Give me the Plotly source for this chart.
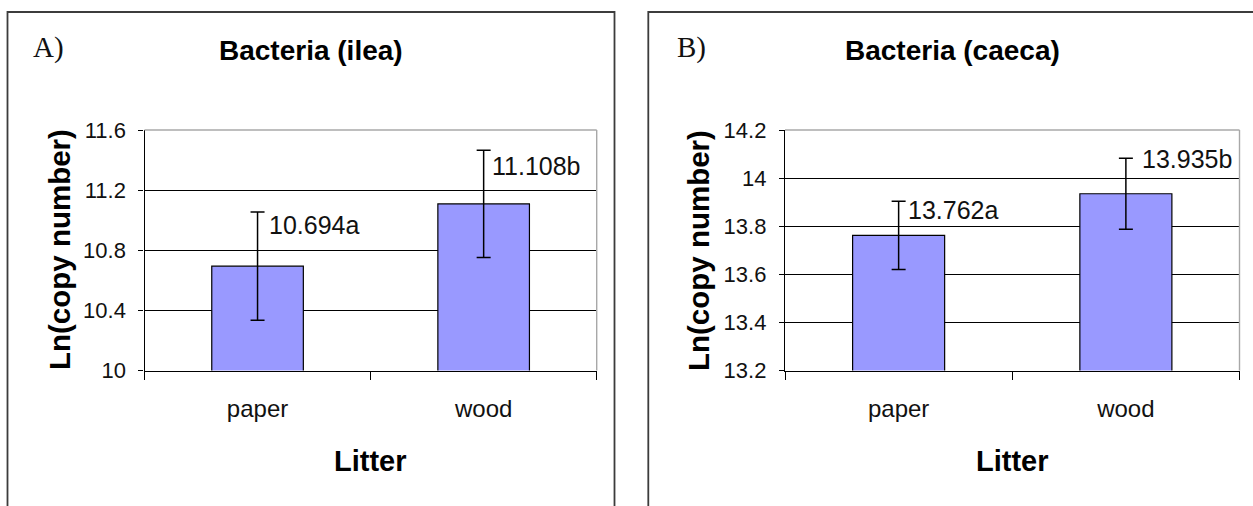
import plotly.graph_objects as go

# ---------------- data ----------------
categories = ["paper", "wood"]

ilea_means = [10.694, 11.108]
ilea_err = [0.36, 0.357]
ilea_letters = ["a", "b"]
ilea_ticks = [10, 10.4, 10.8, 11.2, 11.6]

caeca_means = [13.762, 13.935]
caeca_err = [0.142, 0.148]
caeca_letters = ["a", "b"]
caeca_ticks = [13.2, 13.4, 13.6, 13.8, 14.0, 14.2]

panel_labels = ["A)", "B)"]
titles = ["Bacteria (ilea)", "Bacteria (caeca)"]
y_title = "Ln(copy number)"
x_title = "Litter"

# ---------------- layout helpers ----------------
W, H = 1253, 506


def px_x(p):
    return p / W


def px_y(p):
    return 1 - p / H


FONT = "Liberation Sans, Arial, sans-serif"
SERIF = "Liberation Serif, Times New Roman, serif"
BAR_FILL = "#9999FF"

panels = [
    dict(means=ilea_means, err=ilea_err, letters=ilea_letters, ticks=ilea_ticks,
         xd=[px_x(144.5), px_x(596.7)], box=[7.5, 614.5], label_x=48, title_x=310.5,
         ytitle_x=60, label_dx=[10, 7], label_dy=[13, 16]),
    dict(means=caeca_means, err=caeca_err, letters=caeca_letters, ticks=caeca_ticks,
         xd=[px_x(785), px_x(1239.5)], box=[648.3, 1400], label_x=691, title_x=952,
         ytitle_x=699, label_dx=[8, 15], label_dy=[9, 1]),
]
yd = [px_y(370.5), px_y(130)]

fig = go.Figure()
annotations = []
shapes = []

for i, p in enumerate(panels):
    sfx = "" if i == 0 else str(i + 1)
    xa, ya = "x" + sfx, "y" + sfx
    fig.add_trace(go.Bar(
        x=categories, y=p["means"], xaxis=xa, yaxis=ya,
        width=0.405,
        marker=dict(color=BAR_FILL, line=dict(color="black", width=1.2)),
        error_y=dict(type="data", array=p["err"], visible=True,
                     color="black", thickness=1.5, width=7),
        showlegend=False, hoverinfo="skip",
    ))
    lo, hi = p["ticks"][0], p["ticks"][-1]
    fig.update_layout(**{
        "xaxis" + sfx: dict(
            domain=p["xd"], anchor=ya, type="category", automargin=False,
            showline=True, linecolor="black", linewidth=1.3,
            ticks="outside", tickson="boundaries", ticklen=8, tickcolor="black",
            tickwidth=1.3, showgrid=False, ticklabelstandoff=17,
            tickfont=dict(family=FONT, size=24, color="#111"),
            fixedrange=True,
        ),
        "yaxis" + sfx: dict(
            domain=yd, anchor=xa, range=[lo, hi], automargin=False,
            tickmode="array", tickvals=p["ticks"],
            ticktext=[f"{v:g}" for v in p["ticks"]],
            showline=True, linecolor="black", linewidth=1.3,
            ticks="outside", ticklen=5, tickcolor="black", tickwidth=1.3,
            showgrid=True, gridcolor="black", gridwidth=1.4,
            zeroline=False, ticklabelstandoff=8,
            tickfont=dict(family=FONT, size=22, color="#111"),
            fixedrange=True,
        ),
    })

    # data labels
    for j, cat in enumerate(categories):
        annotations.append(dict(
            x=cat, y=p["means"][j] + p["err"][j], xref=xa, yref=ya,
            text=f"{p['means'][j]:.3f}{p['letters'][j]}",
            showarrow=False, xanchor="left", yanchor="middle",
            xshift=p["label_dx"][j], yshift=-p["label_dy"][j], borderpad=0,
            font=dict(family=FONT, size=25, color="#111"),
        ))

    # panel label
    annotations.append(dict(
        x=px_x(p["label_x"]), y=px_y(47), xref="paper", yref="paper",
        text=panel_labels[i], showarrow=False, xanchor="center", yanchor="middle",
        font=dict(family=SERIF, size=29, color="#111"),
    ))
    # chart title
    annotations.append(dict(
        x=px_x(p["title_x"]), y=px_y(51), xref="paper", yref="paper",
        text=f"<b>{titles[i]}</b>", showarrow=False, xanchor="center", yanchor="middle",
        font=dict(family=FONT, size=28, color="#000"),
    ))
    # y-axis title
    annotations.append(dict(
        x=px_x(p["ytitle_x"] - 1), y=px_y(250), xref="paper", yref="paper",
        text=f"<b>{y_title}</b>", showarrow=False, textangle=-90,
        xanchor="center", yanchor="middle",
        font=dict(family=FONT, size=29.5, color="#000"),
    ))
    # x-axis title
    annotations.append(dict(
        x=(p["xd"][0] + p["xd"][1]) / 2, y=px_y(461), xref="paper", yref="paper",
        text=f"<b>{x_title}</b>", showarrow=False, xanchor="center", yanchor="middle",
        font=dict(family=FONT, size=29, color="#000"),
    ))

    # plot area border (top & right, grey)
    shapes.append(dict(type="line", xref=xa + " domain", yref=ya + " domain",
                       x0=0, x1=1, y0=1, y1=1, line=dict(color="#A8A8A8", width=1.4),
                       layer="above"))
    shapes.append(dict(type="line", xref=xa + " domain", yref=ya + " domain",
                       x0=1, x1=1, y0=0, y1=1, line=dict(color="#A8A8A8", width=1.4),
                       layer="above"))
    # panel frame
    shapes.append(dict(type="rect", xref="paper", yref="paper",
                       x0=px_x(p["box"][0]), x1=px_x(p["box"][1]),
                       y0=-0.2, y1=px_y(12),
                       line=dict(color="#3C3C3C", width=1.8), fillcolor="rgba(0,0,0,0)",
                       layer="below"))

fig.update_layout(
    template="none",
    width=W, height=H,
    margin=dict(l=0, r=0, t=0, b=0, pad=0, autoexpand=False),
    paper_bgcolor="white", plot_bgcolor="white",
    annotations=annotations, shapes=shapes,
    bargap=0.6, showlegend=False,
)

fig.write_html(
    "out.html",
    config={"displayModeBar": False},
    post_script="document.body.style.margin='0';document.body.style.overflow='hidden';",
)
